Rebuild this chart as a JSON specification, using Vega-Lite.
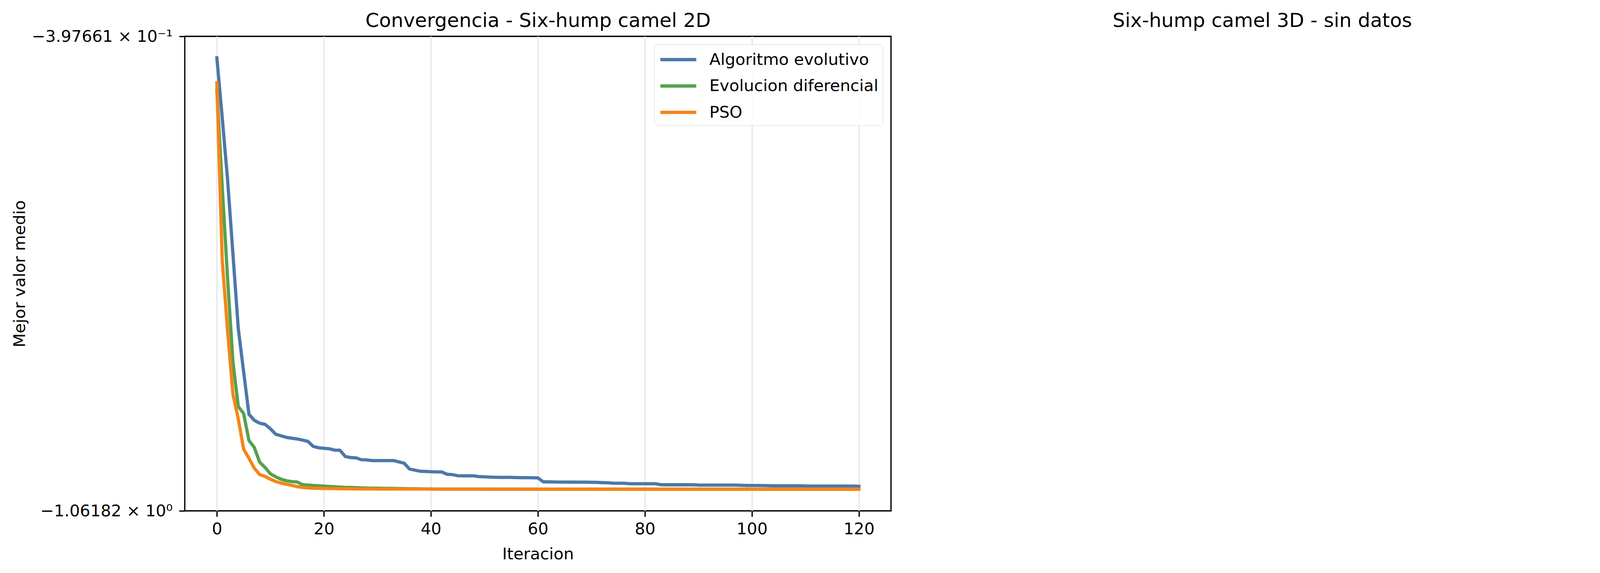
{
  "$schema": "https://vega.github.io/schema/vega-lite/v6.json",
  "background": "white",
  "autosize": {"type": "none"},
  "width": 1808, "height": 1214,
  "padding": {"left": 473, "top": 93, "right": 1885, "bottom": 159},
  "config": {
    "font": "DejaVu Sans",
    "view": {"stroke": "black", "strokeWidth": 3.3},
    "axis": {
      "labelFont": "DejaVu Sans", "titleFont": "DejaVu Sans",
      "labelFontSize": 41.7, "titleFontSize": 41.7, "titleFontWeight": "normal",
      "labelColor": "black", "titleColor": "black",
      "tickColor": "black", "tickWidth": 3.3, "tickSize": 14.6, "labelPadding": 12,
      "domain": false, "labelLimit": 800
    }
  },
  "resolve": {"axis": {"x": "independent", "y": "independent"}},
  "layer": [
    {
      "data": {"values": [
        {"it": 0, "ae": -0.4278, "de": -0.4732, "pso": -0.4625},
        {"it": 1, "ae": -0.5114, "de": -0.6077, "pso": -0.7106},
        {"it": 2, "ae": -0.5979, "de": -0.7363, "pso": -0.8096},
        {"it": 3, "ae": -0.7019, "de": -0.8528, "pso": -0.8982},
        {"it": 4, "ae": -0.8063, "de": -0.9158, "pso": -0.9331},
        {"it": 5, "ae": -0.8671, "de": -0.9255, "pso": -0.9753},
        {"it": 6, "ae": -0.9267, "de": -0.9634, "pso": -0.9883},
        {"it": 7, "ae": -0.9352, "de": -0.9731, "pso": -1.0022},
        {"it": 8, "ae": -0.9391, "de": -0.9937, "pso": -1.0110},
        {"it": 9, "ae": -0.9407, "de": -1.0011, "pso": -1.0136},
        {"it": 10, "ae": -0.9469, "de": -1.0099, "pso": -1.0175},
        {"it": 11, "ae": -0.9546, "de": -1.0142, "pso": -1.0208},
        {"it": 12, "ae": -0.9568, "de": -1.0175, "pso": -1.0229},
        {"it": 13, "ae": -0.9590, "de": -1.0197, "pso": -1.0246},
        {"it": 14, "ae": -0.9601, "de": -1.0208, "pso": -1.0261},
        {"it": 15, "ae": -0.9612, "de": -1.0214, "pso": -1.0279},
        {"it": 16, "ae": -0.9628, "de": -1.0252, "pso": -1.0290},
        {"it": 17, "ae": -0.9645, "de": -1.0257, "pso": -1.0296},
        {"it": 18, "ae": -0.9716, "de": -1.0263, "pso": -1.0301},
        {"it": 19, "ae": -0.9735, "de": -1.0268, "pso": -1.0303},
        {"it": 20, "ae": -0.9742, "de": -1.0272, "pso": -1.0305},
        {"it": 21, "ae": -0.9749, "de": -1.0277, "pso": -1.0306},
        {"it": 22, "ae": -0.9768, "de": -1.0281, "pso": -1.0307},
        {"it": 23, "ae": -0.9770, "de": -1.0285, "pso": -1.0308},
        {"it": 24, "ae": -0.9857, "de": -1.0289, "pso": -1.0309},
        {"it": 25, "ae": -0.9872, "de": -1.0291, "pso": -1.0310},
        {"it": 26, "ae": -0.9876, "de": -1.0294, "pso": -1.0311},
        {"it": 27, "ae": -0.9902, "de": -1.0297, "pso": -1.0311},
        {"it": 28, "ae": -0.9905, "de": -1.0299, "pso": -1.0311},
        {"it": 29, "ae": -0.9914, "de": -1.0301, "pso": -1.0311},
        {"it": 30, "ae": -0.9914, "de": -1.0302, "pso": -1.0312},
        {"it": 31, "ae": -0.9914, "de": -1.0303, "pso": -1.0312},
        {"it": 32, "ae": -0.9914, "de": -1.0304, "pso": -1.0312},
        {"it": 33, "ae": -0.9914, "de": -1.0305, "pso": -1.0312},
        {"it": 34, "ae": -0.9933, "de": -1.0306, "pso": -1.0312},
        {"it": 35, "ae": -0.9951, "de": -1.0307, "pso": -1.0313},
        {"it": 36, "ae": -1.0033, "de": -1.0308, "pso": -1.0313},
        {"it": 37, "ae": -1.0048, "de": -1.0309, "pso": -1.0313},
        {"it": 38, "ae": -1.0064, "de": -1.0310, "pso": -1.0313},
        {"it": 39, "ae": -1.0066, "de": -1.0311, "pso": -1.0313},
        {"it": 40, "ae": -1.0070, "de": -1.0311, "pso": -1.0314},
        {"it": 41, "ae": -1.0073, "de": -1.0312, "pso": -1.0314},
        {"it": 42, "ae": -1.0073, "de": -1.0312, "pso": -1.0314},
        {"it": 43, "ae": -1.0106, "de": -1.0312, "pso": -1.0314},
        {"it": 44, "ae": -1.0111, "de": -1.0312, "pso": -1.0314},
        {"it": 45, "ae": -1.0126, "de": -1.0313, "pso": -1.0314},
        {"it": 46, "ae": -1.0128, "de": -1.0313, "pso": -1.0314},
        {"it": 47, "ae": -1.0128, "de": -1.0313, "pso": -1.0314},
        {"it": 48, "ae": -1.0128, "de": -1.0313, "pso": -1.0314},
        {"it": 49, "ae": -1.0139, "de": -1.0313, "pso": -1.0314},
        {"it": 50, "ae": -1.0142, "de": -1.0314, "pso": -1.0315},
        {"it": 51, "ae": -1.0146, "de": -1.0314, "pso": -1.0315},
        {"it": 52, "ae": -1.0148, "de": -1.0314, "pso": -1.0315},
        {"it": 53, "ae": -1.0150, "de": -1.0314, "pso": -1.0315},
        {"it": 54, "ae": -1.0150, "de": -1.0314, "pso": -1.0315},
        {"it": 55, "ae": -1.0150, "de": -1.0314, "pso": -1.0315},
        {"it": 56, "ae": -1.0152, "de": -1.0314, "pso": -1.0315},
        {"it": 57, "ae": -1.0154, "de": -1.0314, "pso": -1.0315},
        {"it": 58, "ae": -1.0154, "de": -1.0314, "pso": -1.0315},
        {"it": 59, "ae": -1.0155, "de": -1.0314, "pso": -1.0315},
        {"it": 60, "ae": -1.0157, "de": -1.0315, "pso": -1.0315},
        {"it": 61, "ae": -1.0212, "de": -1.0315, "pso": -1.0315},
        {"it": 62, "ae": -1.0212, "de": -1.0315, "pso": -1.0315},
        {"it": 63, "ae": -1.0214, "de": -1.0315, "pso": -1.0315},
        {"it": 64, "ae": -1.0215, "de": -1.0315, "pso": -1.0315},
        {"it": 65, "ae": -1.0215, "de": -1.0315, "pso": -1.0315},
        {"it": 66, "ae": -1.0216, "de": -1.0315, "pso": -1.0315},
        {"it": 67, "ae": -1.0216, "de": -1.0315, "pso": -1.0315},
        {"it": 68, "ae": -1.0217, "de": -1.0315, "pso": -1.0315},
        {"it": 69, "ae": -1.0217, "de": -1.0315, "pso": -1.0315},
        {"it": 70, "ae": -1.0218, "de": -1.0315, "pso": -1.0316},
        {"it": 71, "ae": -1.0219, "de": -1.0315, "pso": -1.0316},
        {"it": 72, "ae": -1.0223, "de": -1.0315, "pso": -1.0316},
        {"it": 73, "ae": -1.0225, "de": -1.0315, "pso": -1.0316},
        {"it": 74, "ae": -1.0230, "de": -1.0315, "pso": -1.0316},
        {"it": 75, "ae": -1.0232, "de": -1.0315, "pso": -1.0316},
        {"it": 76, "ae": -1.0232, "de": -1.0315, "pso": -1.0316},
        {"it": 77, "ae": -1.0237, "de": -1.0315, "pso": -1.0316},
        {"it": 78, "ae": -1.0239, "de": -1.0315, "pso": -1.0316},
        {"it": 79, "ae": -1.0239, "de": -1.0315, "pso": -1.0316},
        {"it": 80, "ae": -1.0239, "de": -1.0316, "pso": -1.0316},
        {"it": 81, "ae": -1.0239, "de": -1.0316, "pso": -1.0316},
        {"it": 82, "ae": -1.0239, "de": -1.0316, "pso": -1.0316},
        {"it": 83, "ae": -1.0252, "de": -1.0316, "pso": -1.0316},
        {"it": 84, "ae": -1.0253, "de": -1.0316, "pso": -1.0316},
        {"it": 85, "ae": -1.0253, "de": -1.0316, "pso": -1.0316},
        {"it": 86, "ae": -1.0253, "de": -1.0316, "pso": -1.0316},
        {"it": 87, "ae": -1.0253, "de": -1.0316, "pso": -1.0316},
        {"it": 88, "ae": -1.0253, "de": -1.0316, "pso": -1.0316},
        {"it": 89, "ae": -1.0253, "de": -1.0316, "pso": -1.0316},
        {"it": 90, "ae": -1.0257, "de": -1.0316, "pso": -1.0316},
        {"it": 91, "ae": -1.0258, "de": -1.0316, "pso": -1.0316},
        {"it": 92, "ae": -1.0258, "de": -1.0316, "pso": -1.0316},
        {"it": 93, "ae": -1.0258, "de": -1.0316, "pso": -1.0316},
        {"it": 94, "ae": -1.0258, "de": -1.0316, "pso": -1.0316},
        {"it": 95, "ae": -1.0258, "de": -1.0316, "pso": -1.0316},
        {"it": 96, "ae": -1.0258, "de": -1.0316, "pso": -1.0316},
        {"it": 97, "ae": -1.0258, "de": -1.0316, "pso": -1.0316},
        {"it": 98, "ae": -1.0261, "de": -1.0316, "pso": -1.0316},
        {"it": 99, "ae": -1.0263, "de": -1.0316, "pso": -1.0316},
        {"it": 100, "ae": -1.0263, "de": -1.0316, "pso": -1.0316},
        {"it": 101, "ae": -1.0263, "de": -1.0316, "pso": -1.0316},
        {"it": 102, "ae": -1.0265, "de": -1.0316, "pso": -1.0316},
        {"it": 103, "ae": -1.0266, "de": -1.0316, "pso": -1.0316},
        {"it": 104, "ae": -1.0268, "de": -1.0316, "pso": -1.0316},
        {"it": 105, "ae": -1.0268, "de": -1.0316, "pso": -1.0316},
        {"it": 106, "ae": -1.0268, "de": -1.0316, "pso": -1.0316},
        {"it": 107, "ae": -1.0268, "de": -1.0316, "pso": -1.0316},
        {"it": 108, "ae": -1.0268, "de": -1.0316, "pso": -1.0316},
        {"it": 109, "ae": -1.0268, "de": -1.0316, "pso": -1.0316},
        {"it": 110, "ae": -1.0270, "de": -1.0316, "pso": -1.0316},
        {"it": 111, "ae": -1.0272, "de": -1.0316, "pso": -1.0316},
        {"it": 112, "ae": -1.0272, "de": -1.0316, "pso": -1.0316},
        {"it": 113, "ae": -1.0272, "de": -1.0316, "pso": -1.0316},
        {"it": 114, "ae": -1.0272, "de": -1.0316, "pso": -1.0316},
        {"it": 115, "ae": -1.0272, "de": -1.0316, "pso": -1.0316},
        {"it": 116, "ae": -1.0272, "de": -1.0316, "pso": -1.0316},
        {"it": 117, "ae": -1.0272, "de": -1.0316, "pso": -1.0316},
        {"it": 118, "ae": -1.0272, "de": -1.0316, "pso": -1.0316},
        {"it": 119, "ae": -1.0272, "de": -1.0316, "pso": -1.0316},
        {"it": 120, "ae": -1.0275, "de": -1.0316, "pso": -1.0316}
      ]},
      "transform": [{"fold": ["ae", "de", "pso"], "as": ["serie", "valor"]}],
      "mark": {"type": "line", "strokeWidth": 8.3, "strokeCap": "square", "strokeJoin": "round"},
      "encoding": {
        "x": {
          "field": "it", "type": "quantitative",
          "scale": {"domain": [-6, 126], "nice": false, "zero": false},
          "axis": {"values": [0, 20, 40, 60, 80, 100, 120], "title": "Iteracion", "grid": true, "gridColor": "#e7e7e7", "gridWidth": 3.3, "titlePadding": 22}
        },
        "y": {
          "field": "valor", "type": "quantitative",
          "scale": {"domain": [-1.06182, -0.397661], "nice": false, "zero": false},
          "axis": {
            "values": [-1.06182, -0.397661],
            "labelExpr": "datum.value < -1 ? '−1.06182 × 10⁰' : '−3.97661 × 10⁻¹'",
            "labelPadding": 17,
            "grid": false, "title": "Mejor valor medio",
            "titleX": -410, "titleY": 607, "titleBaseline": "alphabetic", "titleAngle": 270
          }
        },
        "color": {
          "field": "serie", "type": "nominal",
          "scale": {"domain": ["ae", "de", "pso"], "range": ["#4c78a8", "#54a24b", "#f58518"]},
          "legend": {
            "title": null, "orient": "top-right", "offset": 21,
            "labelExpr": "{'ae': 'Algoritmo evolutivo', 'de': 'Evolucion diferencial', 'pso': 'PSO'}[datum.label]",
            "symbolType": "M-2,0H2", "symbolSize": 2116, "symbolStrokeWidth": 8.3, "symbolOffset": 23,
            "labelOffset": 52, "labelFontSize": 41.7, "labelFont": "DejaVu Sans", "labelColor": "black", "labelLimit": 1000,
            "rowPadding": 17.5, "padding": 11,
            "strokeColor": "#d6d6d6", "fillColor": "rgba(255,255,255,0.8)", "cornerRadius": 8
          }
        }
      }
    },
    {
      "data": {"values": []},
      "mark": "point",
      "encoding": {
        "x": {
          "field": "it", "type": "quantitative",
          "axis": {
            "orient": "top", "labels": false, "ticks": false, "grid": false, "domain": false,
            "title": "Convergencia - Six-hump camel 2D", "titleFontSize": 50,
            "titleX": 904, "titleY": -25, "titleAlign": "center", "titleBaseline": "alphabetic", "titleAngle": 0
          }
        }
      }
    },
    {
      "data": {"values": []},
      "mark": "point",
      "encoding": {
        "y": {
          "field": "valor", "type": "quantitative",
          "axis": {
            "orient": "right", "labels": false, "ticks": false, "grid": false, "domain": false,
            "title": "Six-hump camel 3D - sin datos", "titleFontSize": 50,
            "titleX": 950, "titleY": -25, "titleAlign": "center", "titleBaseline": "alphabetic", "titleAngle": 0
          }
        }
      }
    }
  ]
}
